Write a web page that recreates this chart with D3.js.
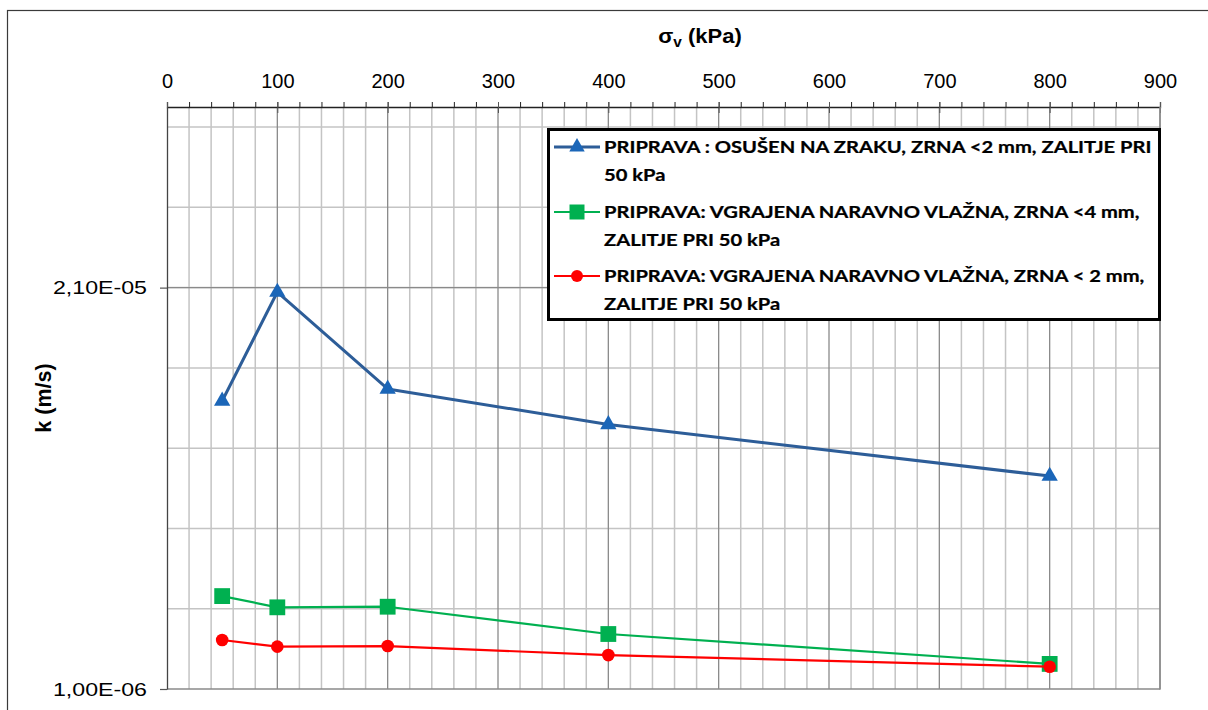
<!DOCTYPE html>
<html>
<head>
<meta charset="utf-8">
<script src="https://cdn.jsdelivr.net/npm/d3@7"></script>
<style>
  body { margin: 0; background: #fff; }
  svg { display: block; }
</style>
</head>
<body>
<div id="chart-area"></div>
<script>
// vertical stress (kPa)
var stress = [50, 100, 200, 400, 800];

// permeability k (m/s) for each preparation
var seriesNames = [
    ["PRIPRAVA : OSUŠEN NA ZRAKU, ZRNA <2 mm, ZALITJE PRI", "50 kPa"],
    ["PRIPRAVA: VGRAJENA NARAVNO VLAŽNA, ZRNA <4 mm,", "ZALITJE PRI 50 kPa"],
    ["PRIPRAVA: VGRAJENA NARAVNO VLAŽNA, ZRNA < 2 mm,", "ZALITJE PRI 50 kPa"]
];
var airDried = [1.535e-5, 2.078e-5, 1.595e-5, 1.418e-5, 1.161e-5];
var moist4mm = [5.63e-6, 5.07e-6, 5.10e-6, 3.74e-6, 2.25e-6];
var moist2mm = [3.44e-6, 3.11e-6, 3.14e-6, 2.69e-6, 2.11e-6];

var xTicks = [0, 100, 200, 300, 400, 500, 600, 700, 800, 900];
var yTickLabels = ["1,00E-06", "2,10E-05"];

var W = 1208, H = 710;
var plot = {left: 167, top: 107, right: 1160, bottom: 689};
var FONT = "Liberation Sans, Arial, sans-serif";

var svg = d3.select("#chart-area").append("svg")
    .attr("width", W)
    .attr("height", H);

// outer chart border
svg.append("rect")
    .attr("x", 7.5).attr("y", 10.5)
    .attr("width", 1300).attr("height", 900)
    .attr("fill", "none")
    .attr("stroke", "#3a3a3a")
    .attr("stroke-width", 1.2);

var x = d3.scaleLinear().domain([0, 900]).range([plot.left, plot.right]);
var y = d3.scaleLinear().domain([1e-6, 3e-5]).range([plot.bottom, plot.top]);

var g = svg.append("g");

// minor gridlines
var xMinor = d3.range(20, 900, 20).filter(function (d) { return d % 100 !== 0; });
var yMinor = d3.range(5e-6, 2.95e-5, 4e-6);

g.selectAll("line.xminor").data(xMinor).enter().append("line")
    .attr("x1", function (d) { return x(d); }).attr("x2", function (d) { return x(d); })
    .attr("y1", plot.top).attr("y2", plot.bottom)
    .attr("stroke", "#c4c4c4").attr("stroke-width", 1.5);

g.selectAll("line.yminor").data(yMinor).enter().append("line")
    .attr("x1", plot.left).attr("x2", plot.right)
    .attr("y1", function (d) { return y(d); }).attr("y2", function (d) { return y(d); })
    .attr("stroke", "#c4c4c4").attr("stroke-width", 1.5);

// major gridlines
g.selectAll("line.xmajor").data(xTicks.slice(1)).enter().append("line")
    .attr("x1", function (d) { return x(d); }).attr("x2", function (d) { return x(d); })
    .attr("y1", plot.top).attr("y2", plot.bottom)
    .attr("stroke", "#8a8a8a").attr("stroke-width", 1.3);

g.append("line")
    .attr("x1", plot.left).attr("x2", plot.right)
    .attr("y1", y(2.1e-5)).attr("y2", y(2.1e-5))
    .attr("stroke", "#8a8a8a").attr("stroke-width", 1.3);

// plot frame (bottom)
g.append("line")
    .attr("x1", plot.left).attr("x2", plot.right)
    .attr("y1", plot.bottom).attr("y2", plot.bottom)
    .attr("stroke", "#8a8a8a").attr("stroke-width", 1.5);

// X axis on top
var xAxisMinor = d3.axisTop(x)
    .tickValues(d3.range(0, 901, 20))
    .tickSize(5)
    .tickFormat("");
g.append("g")
    .attr("transform", "translate(0," + plot.top + ")")
    .call(xAxisMinor)
    .call(function (a) {
        a.selectAll("line").attr("stroke", "#222");
        a.select(".domain").attr("stroke", "#222").attr("stroke-width", 1.3);
    });

var xAxisMajor = d3.axisTop(x)
    .tickValues(xTicks)
    .tickSizeInner(5)
    .tickSizeOuter(0)
    .tickPadding(14);
var xAx = g.append("g")
    .attr("transform", "translate(0," + plot.top + ")")
    .call(xAxisMajor);
xAx.select(".domain").remove();
xAx.selectAll("line").attr("y2", 6).attr("y1", -5).attr("stroke", "#555");
xAx.selectAll("text")
    .attr("font-family", FONT)
    .attr("font-size", "20px")
    .attr("fill", "#000");

// Y axis
var yStretch = 1.22;
var yAxis = d3.axisLeft(y)
    .tickValues([1e-6, 2.1e-5])
    .tickSizeInner(7)
    .tickSizeOuter(0)
    .tickPadding(13)
    .tickFormat(function (d, i) { return yTickLabels[i]; });
var yAx = g.append("g")
    .attr("transform", "translate(" + plot.left + ",0)")
    .call(yAxis);
yAx.select(".domain").attr("stroke", "#444").attr("stroke-width", 1.3);
yAx.selectAll("line").attr("stroke", "#555").attr("stroke-width", 1.2);
yAx.selectAll("text")
    .attr("font-family", FONT)
    .attr("font-size", "19px")
    .attr("fill", "#000")
    .attr("x", -20 / yStretch)
    .attr("transform", "scale(" + yStretch + ",1)");

// right frame line
g.append("line")
    .attr("x1", plot.right).attr("x2", plot.right)
    .attr("y1", plot.top).attr("y2", plot.bottom + 0.75)
    .attr("stroke", "#8a8a8a").attr("stroke-width", 1.5);

// Axis titles
var xTitle = svg.append("text")
    .attr("transform", "translate(700,43) scale(1.1,1)")
    .attr("text-anchor", "middle")
    .attr("font-family", FONT)
    .attr("font-weight", "bold")
    .attr("font-size", "20px");
xTitle.append("tspan").text("σ");
xTitle.append("tspan").attr("dy", 4).attr("font-size", "14px").text("v");
xTitle.append("tspan").attr("dy", -4).text(" (kPa)");

svg.append("text")
    .attr("transform", "translate(51," + ((plot.top + plot.bottom) / 2) + ") rotate(-90)")
    .attr("text-anchor", "middle")
    .attr("font-family", FONT)
    .attr("font-weight", "bold")
    .attr("font-size", "21.5px")
    .text("k (m/s)");

// Series
var series = [
    {values: airDried, line: "#2d5d98", marker: "#1b66b8", width: 3, shape: d3.symbolTriangle, size: 115},
    {values: moist4mm, line: "#00b050", marker: "#00b050", width: 2.2, shape: d3.symbolSquare, size: 250},
    {values: moist2mm, line: "#ff0000", marker: "#ff0000", width: 2.2, shape: d3.symbolCircle, size: 125}
];

var line = d3.line()
    .x(function (d) { return x(d[0]); })
    .y(function (d) { return y(d[1]); });

series.forEach(function (s) {
    var pts = stress.map(function (v, i) { return [v, s.values[i]]; });
    g.append("path")
        .datum(pts)
        .attr("d", line)
        .attr("fill", "none")
        .attr("stroke", s.line)
        .attr("stroke-width", s.width)
        .attr("stroke-linejoin", "round");
    g.selectAll(null).data(pts).enter().append("path")
        .attr("d", d3.symbol().type(s.shape).size(s.size))
        .attr("transform", function (d) { return "translate(" + x(d[0]) + "," + y(d[1]) + ")"; })
        .attr("fill", s.marker);
});

// Legend
var lg = svg.append("g");
lg.append("rect")
    .attr("x", 548.5).attr("y", 129.5)
    .attr("width", 611).attr("height", 190)
    .attr("fill", "#fff")
    .attr("stroke", "#000")
    .attr("stroke-width", 3);

var rowY = [153, 218, 282];
var texts = [];
series.forEach(function (s, i) {
    var row = lg.append("g").attr("transform", "translate(0," + rowY[i] + ")");
    row.append("line")
        .attr("x1", 554).attr("x2", 600)
        .attr("y1", -6).attr("y2", -6)
        .attr("stroke", s.line).attr("stroke-width", s.width);
    row.append("path")
        .attr("d", d3.symbol().type(s.shape).size(s.size * 0.9))
        .attr("transform", "translate(577,-6)")
        .attr("fill", s.marker);
    var t = row.append("text")
        .attr("font-family", "Lato, Carlito, Calibri, sans-serif")
        .attr("font-weight", "bold")
        .attr("font-size", "17.5px")
        .attr("fill", "#000")
        .attr("stroke", "#000")
        .attr("stroke-width", 0.25);
    seriesNames[i].forEach(function (ln, j) {
        t.append("tspan").attr("x", 0).attr("y", j * 28).text(ln);
    });
    texts.push(t);
});
// fit the longest legend line to the width seen in the reference
var firstLen = texts[0].select("tspan").node().getComputedTextLength();
var kx = 548 / firstLen;
texts.forEach(function (t) {
    t.attr("transform", "translate(604,0) scale(" + kx + ",1)");
});
</script>
</body>
</html>
